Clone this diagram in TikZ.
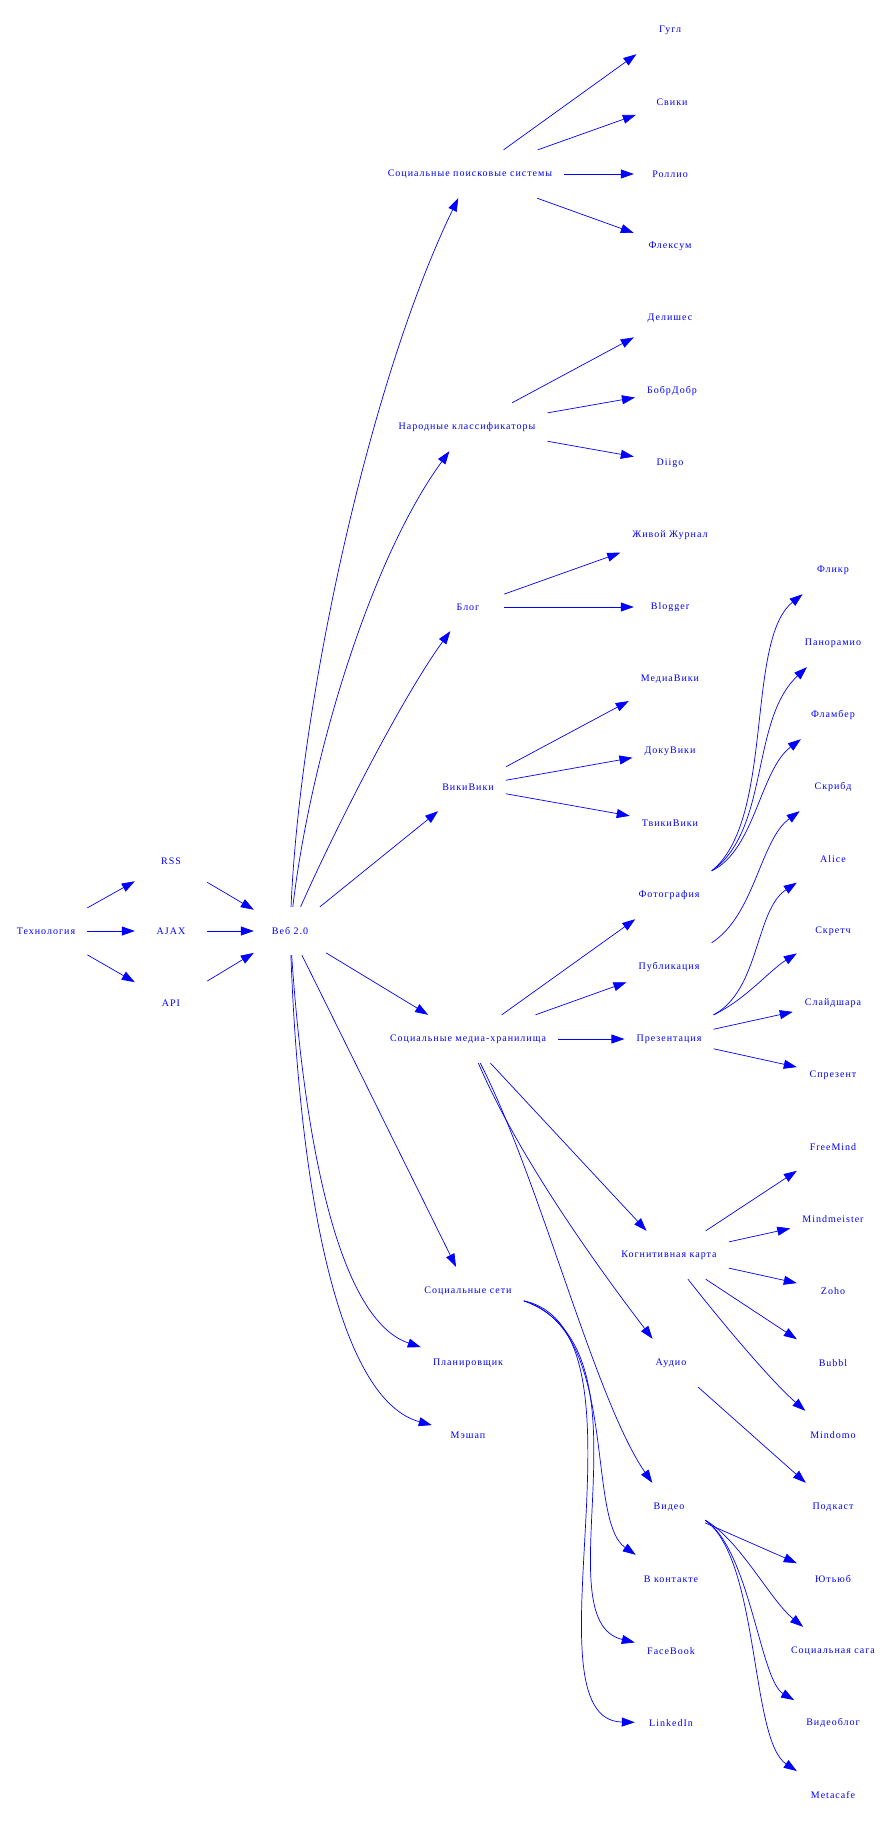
\documentclass[tikz,border=0pt]{standalone}
\usepackage{fontspec}
\setmainfont{Liberation Serif}[LetterSpace=10]
\usepackage{tikz}
\usepackage{xcolor}
\usetikzlibrary{arrows.meta}
\definecolor{graphblue}{RGB}{0,0,255}

\begin{document}
\begin{tikzpicture}[x=1pt,y=-1pt,
            every node/.style={font=\fontsize{10}{12}\selectfont,text=graphblue,minimum width=72pt,minimum height=48pt,inner xsep=12pt},
            gvedge/.style={draw=graphblue,line width=0.7pt,-{Triangle[length=13pt,width=9pt]}}]
            \useasboundingbox (0,0) rectangle (893,1823);
            \node (tech) at (46,931) {Технология};
            \node (rss) at (171,861) {RSS};
            \node (ajax) at (171,931) {AJAX};
            \node (api) at (171,1003) {API};
            \node (web) at (290,931) {Веб 2.0};
            \node (search) at (470,174) {Социальные поисковые системы};
            \node (google) at (670,30) {Гугл};
            \node (swicki) at (672,102) {Свики};
            \node (rollyo) at (670,174) {Роллио};
            \node (fleksum) at (670,246) {Флексум};
            \node (folk) at (467,427) {Народные классификаторы};
            \node (delicious) at (670,318) {Делишес};
            \node (bobr) at (672,391) {БобрДобр};
            \node (diigo) at (670,463) {Diigo};
            \node (blog) at (468,607) {Блог};
            \node (lj) at (670,535) {Живой Журнал};
            \node (blogger) at (670,607) {Blogger};
            \node (wiki) at (468,787) {ВикиВики};
            \node (mediawiki) at (670,679) {МедиаВики};
            \node (dokuwiki) at (670,751) {ДокуВики};
            \node (twiki) at (670,823) {ТвикиВики};
            \node (media) at (468,1039) {Социальные медиа-хранилища};
            \node (photo) at (669,895) {Фотография};
            \node (publ) at (669,967) {Публикация};
            \node (pres) at (669,1039) {Презентация};
            \node (flickr) at (833,570) {Фликр};
            \node (panoramio) at (833,643) {Панорамио};
            \node (flamber) at (833,715) {Фламбер};
            \node (scribd) at (833,787) {Скрибд};
            \node (alice) at (833,859) {Alice};
            \node (scratch) at (833,931) {Скретч};
            \node (slideshare) at (833,1003) {Слайдшара};
            \node (sprezent) at (833,1075) {Спрезент};
            \node (mindmap) at (669,1255) {Когнитивная карта};
            \node (freemind) at (833,1147) {FreeMind};
            \node (mindmeister) at (833,1219) {Mindmeister};
            \node (zoho) at (833,1291) {Zoho};
            \node (bubbl) at (833,1363) {Bubbl};
            \node (mindomo) at (833,1435) {Mindomo};
            \node (podcast) at (833,1507) {Подкаст};
            \node (networks) at (468,1291) {Социальные сети};
            \node (planner) at (468,1363) {Планировщик};
            \node (mashup) at (468,1435) {Мэшап};
            \node (audio) at (671,1363) {Аудио};
            \node (video) at (669,1507) {Видео};
            \node (vk) at (671,1579) {В контакте};
            \node (facebook) at (671,1651) {FaceBook};
            \node (linkedin) at (671,1723) {LinkedIn};
            \node (youtube) at (833,1579) {Ютьюб};
            \node (saga) at (833,1651) {Социальная сага};
            \node (videoblog) at (833,1723) {Видеоблог};
            \node (metacafe) at (833,1795) {Metacafe};
            \draw[gvedge] (tech) -- (rss);
            \draw[gvedge] (tech) -- (ajax);
            \draw[gvedge] (tech) -- (api);
            \draw[gvedge] (rss) -- (web);
            \draw[gvedge] (ajax) -- (web);
            \draw[gvedge] (api) -- (web);
            \draw[gvedge] (web) .. controls (300,700) and (370,380) .. (search);
            \draw[gvedge] (web) .. controls (310,760) and (370,560) .. (folk);
            \draw[gvedge] (web) .. controls (330,840) and (400,700) .. (blog);
            \draw[gvedge] (web) -- (wiki);
            \draw[gvedge] (web) -- (media);
            \draw[gvedge] (web) -- (networks);
            \draw[gvedge] (web) .. controls (305,1150) and (340,1320) .. (planner);
            \draw[gvedge] (web) .. controls (300,1200) and (340,1400) .. (mashup);
            \draw[gvedge] (search) -- (google);
            \draw[gvedge] (search) -- (swicki);
            \draw[gvedge] (search) -- (rollyo);
            \draw[gvedge] (search) -- (fleksum);
            \draw[gvedge] (folk) -- (delicious);
            \draw[gvedge] (folk) -- (bobr);
            \draw[gvedge] (folk) -- (diigo);
            \draw[gvedge] (blog) -- (lj);
            \draw[gvedge] (blog) -- (blogger);
            \draw[gvedge] (wiki) -- (mediawiki);
            \draw[gvedge] (wiki) -- (dokuwiki);
            \draw[gvedge] (wiki) -- (twiki);
            \draw[gvedge] (media) -- (photo);
            \draw[gvedge] (media) -- (publ);
            \draw[gvedge] (media) -- (pres);
            \draw[gvedge] (media) -- (mindmap);
            \draw[gvedge] (media) .. controls (520,1160) and (600,1270) .. (audio);
            \draw[gvedge] (media) .. controls (540,1180) and (595,1400) .. (video);
            \draw[gvedge] (photo.north east) .. controls (775,820) and (745,640) .. (flickr);
            \draw[gvedge] (photo.north east) .. controls (770,830) and (750,720) .. (panoramio);
            \draw[gvedge] (photo.north east) .. controls (755,850) and (760,770) .. (flamber);
            \draw[gvedge] (publ.north east) .. controls (755,915) and (760,840) .. (scribd);
            \draw[gvedge] (pres.north east) .. controls (760,990) and (755,910) .. (alice);
            \draw[gvedge] (pres.north east) .. controls (745,1000) and (770,970) .. (scratch);
            \draw[gvedge] (pres) -- (slideshare);
            \draw[gvedge] (pres) -- (sprezent);
            \draw[gvedge] (mindmap) -- (freemind);
            \draw[gvedge] (mindmap) -- (mindmeister);
            \draw[gvedge] (mindmap) -- (zoho);
            \draw[gvedge] (mindmap) -- (bubbl);
            \draw[gvedge] (mindmap) .. controls (720,1320) and (770,1380) .. (mindomo);
            \draw[gvedge] (audio) -- (podcast);
            \draw[gvedge] (networks.-10) .. controls (620,1330) and (585,1520) .. (vk);
            \draw[gvedge] (networks.-10) .. controls (660,1350) and (540,1620) .. (facebook);
            \draw[gvedge] (networks.-10) .. controls (660,1330) and (520,1720) .. (linkedin);
            \draw[gvedge] (video) -- (youtube);
            \draw[gvedge] (video.-20) .. controls (740,1540) and (770,1600) .. (saga);
            \draw[gvedge] (video.-20) .. controls (750,1550) and (760,1680) .. (videoblog);
            \draw[gvedge] (video.-20) .. controls (760,1560) and (750,1740) .. (metacafe);
        \end{tikzpicture}
\end{document}
